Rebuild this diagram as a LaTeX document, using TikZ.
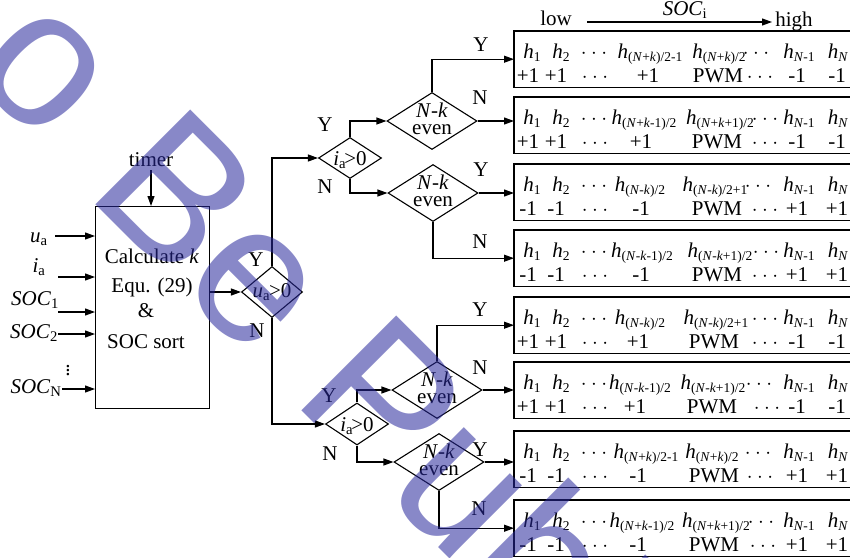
\documentclass[tikz,border=0pt]{standalone}
\usepackage{fontspec}
\setmainfont{Liberation Serif}
\newfontfamily\wmfont{Liberation Sans}
\usetikzlibrary{shapes.geometric,arrows.meta}
\newcommand\fsz{\fontsize{21}{24}\selectfont}
\newcommand\hh[1]{\textit{h}\raisebox{-3.5pt}{\fontsize{13.5}{14}\selectfont #1}}
\newcommand\iN{\textit{N}}
\newcommand\ik{\textit{k}}
\newcommand\dd{$\cdot\cdot\cdot$}
\definecolor{wmc}{RGB}{39,39,155}
% row of h's: name, y, x4, t4, x5, t5, x6
\newcommand\hrow[7]{%
 \node[cell] (#1a) at (532,#2) {\hh{1}};
 \node[cell] (#1b) at (561,#2) {\hh{2}};
 \node[cell] (#1c) at (594,#2) {\dd};
 \node[cell] (#1d) at (#3,#2) {#4};
 \node[cell] (#1e) at (#5,#2) {#6};
 \node[cell] (#1f) at (#7,#2) {\dd};
 \node[cell] (#1g) at (799,#2) {\hh{\iN-1}};
 \node[cell] (#1h) at (838,#2) {\hh{\iN}};}
% row of values: name, y, a, x4, xPWM, x6, b
\newcommand\vrow[7]{%
 \node[cell] (#1a) at (528,#2) {#3};
 \node[cell] (#1b) at (556,#2) {#3};
 \node[cell] (#1c) at (595,#2) {\dd};
 \node[cell] (#1d) at (#4,#2) {#3};
 \node[cell] (#1e) at (#5,#2) {PWM};
 \node[cell] (#1f) at (#6,#2) {\dd};
 \node[cell] (#1g) at (797,#2) {#7};
 \node[cell] (#1h) at (837,#2) {#7};}
% box: name, top
\newcommand\obox[2]{%
 \node[minimum width=336pt, minimum height=56pt, anchor=north west] (#1) at (514,#2) {};
 \draw[ln] (#1.north east) -- (#1.north west) -- (#1.south west) -- (#1.south east);}
% N-k diamond: name, x, y
\newcommand\nkd[3]{%
 \node[dia, minimum width=90pt, minimum height=57pt] (#1) at (#2,#3) {};
 \node[anchor=base] (#1t) at ([yshift=4pt]#1.center) {\iN-\ik};
 \node[anchor=base] (#1u) at ([yshift=-13pt]#1.center) {even};}
\begin{document}
\begin{tikzpicture}[x=1pt,y=-1pt,font=\fsz,
  every node/.style={inner sep=0pt},
  cell/.style={anchor=base},
  ln/.style={line width=1.1pt},
  arr/.style={line width=1.1pt,-{Triangle[length=10pt,width=7pt]}},
  dia/.style={diamond,draw,line width=1.1pt},
  lab/.style={anchor=center},
  wm/.style={font=\wmfont\fontsize{195}{200}\selectfont,text=wmc,text opacity=0.55,rotate=-45}]
\useasboundingbox (0,0) rectangle (850,557);

% main block
\node[draw,line width=1.1pt,minimum width=114pt,minimum height=202pt,anchor=north west] (main) at (95,206) {};
\node[anchor=base] (m1) at (152,263) {Calculate \textit{k}};
\node[anchor=base] (m2) at (152,292) {Equ. (29)};
\node[anchor=base] (m3) at (146,317) {\&};
\node[anchor=base] (m4) at (146,348) {SOC sort};

% timer
\node[anchor=base] (timer) at (151,166) {timer};
\draw[arr] ([yshift=-4pt]timer.south) -- (timer.south |- main.north);

% inputs
\node[anchor=base] (lua) at (39,242) {\textit{u}\textsubscript{a}};
\node[anchor=base] (lia) at (39,272) {\textit{i}\textsubscript{a}};
\node[anchor=base] (ls1) at (35,305) {\textit{SOC}\textsubscript{1}};
\node[anchor=base] (ls2) at (34,338) {\textit{SOC}\textsubscript{2}};
\node[anchor=base] (lsn) at (36,393) {\textit{SOC}\textsubscript{N}};
\node (vd) at (68,368) {$\vdots$};
\coordinate (cua) at (55,236);
\coordinate (cia) at (58,277);
\coordinate (cs1) at (58,312);
\coordinate (cs2) at (58,334);
\coordinate (csn) at (62,389);
\foreach \c in {cua,cia,cs1,cs2,csn}{\draw[arr] (\c) -- (\c -| main.west);}

% decision diamonds
\node[dia,minimum width=61pt,minimum height=51pt] (u) at (272,292) {};
\node[anchor=base] (ut) at ([yshift=-5pt]u.center) {\textit{u}\textsubscript{a}\kern-1pt>0};
\node[dia,minimum width=63pt,minimum height=41pt] (i1) at (350,158) {};
\node[anchor=base] (i1t) at ([yshift=-7pt]i1.center) {\textit{i}\textsubscript{a}\kern-2pt>0};
\node[dia,minimum width=63pt,minimum height=42pt] (i2) at (357,424) {};
\node[anchor=base] (i2t) at ([yshift=-7pt]i2.center) {\textit{i}\textsubscript{a}\kern-2pt>0};
\nkd{n1}{432}{121}
\nkd{n2}{433}{193}
\nkd{n3}{437}{390}
\nkd{n4}{439}{462}

% output boxes
\obox{b1}{31}
\obox{b2}{97}
\obox{b3}{164}
\obox{b4}{230}
\obox{b5}{297}
\obox{b6}{362}
\obox{b7}{431}
\obox{b8}{500}

\hrow{r1h}{58}{650}{\hh{(\iN+\ik)/2-1}}{719}{\hh{(\iN+\ik)/2}}{756}
\vrow{r1v}{82}{+1}{648}{718}{760}{-1}
\hrow{r2h}{124}{644}{\hh{(\iN+\ik-1)/2}}{720}{\hh{(\iN+\ik+1)/2}}{765}
\vrow{r2v}{148}{+1}{641}{717}{765}{-1}
\hrow{r3h}{191}{640}{\hh{(\iN-\ik)/2}}{715}{\hh{(\iN-\ik)/2+1}}{758}
\vrow{r3v}{215}{-1}{641}{717}{765}{+1}
\hrow{r4h}{257}{642}{\hh{(\iN-\ik-1)/2}}{720}{\hh{(\iN-\ik+1)/2}}{766}
\vrow{r4v}{281}{-1}{641}{717}{765}{+1}
\hrow{r5h}{324}{640}{\hh{(\iN-\ik)/2}}{716}{\hh{(\iN-\ik)/2+1}}{765}
\vrow{r5v}{348}{+1}{638}{714}{765}{-1}
\hrow{r6h}{389}{640}{\hh{(\iN-\ik-1)/2}}{713}{\hh{(\iN-\ik+1)/2}}{759}
\vrow{r6v}{413}{+1}{635}{712}{767}{-1}
\hrow{r7h}{458}{646}{\hh{(\iN+\ik)/2-1}}{712}{\hh{(\iN+\ik)/2}}{758}
\vrow{r7v}{482}{-1}{638}{714}{760}{+1}
\hrow{r8h}{527}{642}{\hh{(\iN+\ik-1)/2}}{716}{\hh{(\iN+\ik+1)/2}}{761}
\vrow{r8v}{551}{-1}{638}{714}{763}{+1}

% header
\node[anchor=base] (low) at (556,25) {low};
\node[anchor=base] (high) at (794,26) {high};
\node[anchor=base] (soc) at (685,15) {\textit{SOC}\textsubscript{i}};
\coordinate (ha) at (587,22);
\coordinate (hb) at (772,22);
\draw[arr] (ha) -- (hb);

% connectors
\draw[arr] (main.east |- u.west) -- (u.west);
\draw[arr] (u.north) |- (i1.west);
\draw[arr] (u.south) |- (i2.west);
\draw[arr] (i1.north) |- (n1.west);
\draw[arr] (i1.south) |- (n2.west);
\draw[arr] (n1.north) |- (b1.west);
\draw[arr] (n1.east) -- (n1.east -| b2.west);
\draw[arr] (n2.east) -- (n2.east -| b3.west);
\draw[arr] (n2.south) |- (b4.west);
\draw[arr] (i2.north) |- (n3.west);
\draw[arr] (i2.south) |- (n4.west);
\draw[arr] (n3.north) |- (b5.west);
\draw[arr] (n3.east) -- (n3.east -| b6.west);
\draw[arr] (n4.east) -- (n4.east -| b7.west);
\draw[arr] (n4.south) |- (b8.west);

% Y / N labels
\node[lab] (yu) at (256,260) {Y};
\node[lab] (nu) at (257,331) {N};
\node[lab] (y1) at (325,125) {Y};
\node[lab] (no1) at (325,187) {N};
\node[lab] (y2) at (329,396) {Y};
\node[lab] (no2) at (330,454) {N};
\node[lab] (ya) at (481,45) {Y};
\node[lab] (na) at (480,98) {N};
\node[lab] (yb) at (481,170) {Y};
\node[lab] (nb) at (480,242) {N};
\node[lab] (yc) at (480,310) {Y};
\node[lab] (nc) at (480,368) {N};
\node[lab] (yd) at (480,450) {Y};
\node[lab] (nd) at (479,509) {N};

% watermark
\node[wm,anchor=center] (wm1) at (41,72) {o};
\node[wm,anchor=base west] (wm2) at (84,193) {Be Published};
\end{tikzpicture}
\end{document}
